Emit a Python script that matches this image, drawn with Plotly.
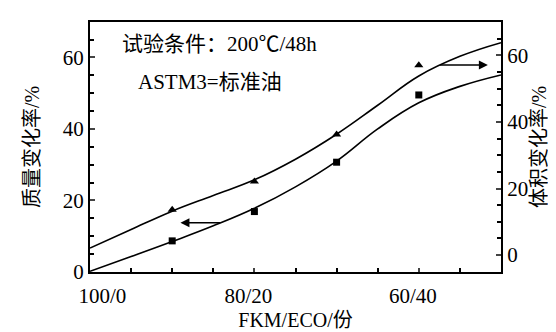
import plotly.graph_objects as go

# ECO content (FKM/ECO ratio = 100-x / x)
eco_points = [10, 20, 30, 40]
mass_points = [8.7, 16.9, 30.7, 49.5]        # squares, left axis
volume_points = [13.6, 22.1, 36.2, 57.0]     # triangles, right axis

# smooth fitted curves as drawn in the figure
eco_curve = [0, 5, 10, 15, 20, 25, 30, 35, 40, 45, 50]
mass_curve = [0.2, 4.3, 8.5, 12.9, 17.8, 23.8, 31.0, 40.0, 47.3, 51.9, 55.1]
volume_curve = [2.1, 7.7, 13.2, 17.9, 22.6, 28.8, 36.3, 45.0, 53.8, 59.7, 63.8]

x_tickvals = [0, 20, 40]
x_ticktext = ["\u00a0" * 7 + "100/0", "80/20", "60/40"]
y_tickvals = [0, 20, 40, 60]

FONT = '"Liberation Serif", "Times New Roman", "Noto Sans CJK SC", serif'

fig = go.Figure()
fig.add_trace(go.Scatter(x=eco_curve, y=mass_curve, mode="lines", line=dict(color="black", width=1.6, shape="spline", smoothing=1.2), showlegend=False))
fig.add_trace(go.Scatter(x=eco_curve, y=volume_curve, mode="lines", yaxis="y2", line=dict(color="black", width=1.6, shape="spline", smoothing=1.2), showlegend=False))
fig.add_trace(go.Scatter(x=eco_points, y=mass_points, mode="markers", marker=dict(symbol="square", color="black", size=7), showlegend=False))
fig.add_trace(go.Scatter(x=eco_points, y=volume_points, mode="markers", yaxis="y2", marker=dict(symbol="triangle-up", color="black", size=8), showlegend=False))

fig.update_layout(
    width=556, height=332,
    margin=dict(l=82, r=63, t=13, b=57),
    paper_bgcolor="white", plot_bgcolor="white",
    font=dict(family=FONT, size=21, color="black"),
    xaxis=dict(range=[0, 50], tickvals=x_tickvals, ticktext=x_ticktext, ticks="inside", ticklen=4, tickwidth=1.5,
               minor=dict(dtick=5, ticks="inside", ticklen=4, tickwidth=1.5, tickcolor="black"),
               showline=True, linewidth=2, linecolor="black", mirror=True, showgrid=False, zeroline=False,
               ticklabelshift=-6, ticklabelstandoff=4,
               title=dict(text="FKM/ECO/份" + "\u00a0" * 4, standoff=6, font=dict(size=20))),
    yaxis=dict(range=[0, 69.9], tickvals=y_tickvals, ticks="inside", ticklen=5, tickwidth=1.5,
               minor=dict(dtick=5, ticks="inside", ticklen=4, tickwidth=1.5, tickcolor="black"),
               showline=True, linewidth=2, linecolor="black", showgrid=False, zeroline=False,
               title=dict(text="质量变化率/%", standoff=18, font=dict(size=20))),
    yaxis2=dict(range=[-5.07, 70.0], tickvals=y_tickvals, overlaying="y", side="right", ticks="inside", ticklen=5, tickwidth=1.5,
                minor=dict(dtick=5, ticks="inside", ticklen=4, tickwidth=1.5, tickcolor="black"),
                showline=True, linewidth=2, linecolor="black", showgrid=False, zeroline=False,
                title=dict(text="体积变化率/%", standoff=2, font=dict(size=20))),
    annotations=[
        dict(text="试验条件：200℃/48h", x=3.6, y=63.8, xref="x", yref="y", xanchor="left", yanchor="middle", showarrow=False, font=dict(size=21)),
        dict(text="ASTM3=标准油", x=5.6, y=53.2, xref="x", yref="y", xanchor="left", yanchor="middle", showarrow=False, font=dict(size=21)),
        dict(x=11.0, y=13.8, ax=16.0, ay=13.8, xref="x", yref="y", axref="x", ayref="y", text="", showarrow=True,
             arrowhead=2, arrowsize=1.2, arrowwidth=1.5, arrowcolor="black"),
        dict(x=48.4, y=57.1, ax=42.4, ay=57.1, xref="x", yref="y2", axref="x", ayref="y2", text="", showarrow=True,
             arrowhead=2, arrowsize=1.2, arrowwidth=1.5, arrowcolor="black"),
    ],
)

fig.write_html("out.html")
